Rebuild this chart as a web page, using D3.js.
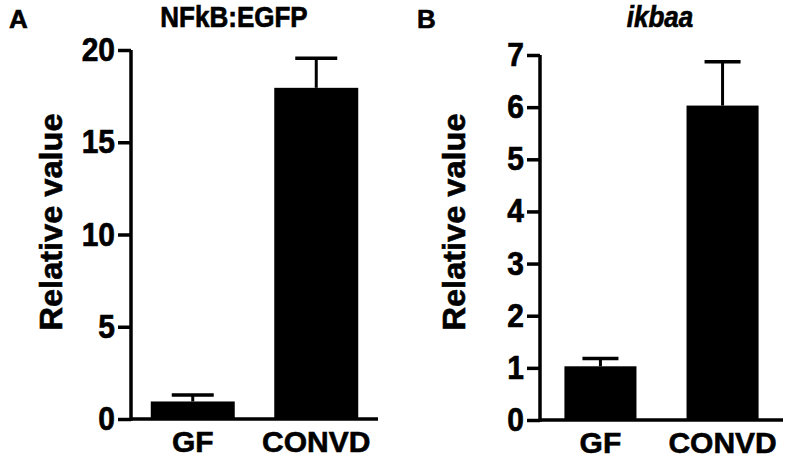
<!DOCTYPE html>
<html>
<head>
<meta charset="utf-8">
<script src="https://cdn.jsdelivr.net/npm/d3@7"></script>
<style>
  html, body { margin: 0; padding: 0; background: #fff; }
  svg { display: block; font-family: "Liberation Sans", Arial, Helvetica, sans-serif; }
  text { stroke: #000; stroke-width: 0.6px; }
</style>
</head>
<body>
<svg id="chart" width="800" height="464"></svg>
<script>
// ---- data ----
const categories = ["GF", "CONVD"];
const nfkbMeans = [0.95, 17.95];
const nfkbErrors = [0.35, 1.6];
const ikbaaMeans = [1.03, 6.03];
const ikbaaErrors = [0.15, 0.84];
const nfkbTicks = [0, 5, 10, 15, 20];
const ikbaaTicks = [0, 1, 2, 3, 4, 5, 6, 7];

const svg = d3.select("#chart");

function panel(opts) {
  const g = svg.append("g");
  const x = d3.scaleBand().domain(categories).range(opts.xRange)
    .paddingInner(opts.padInner).paddingOuter(opts.padOuter);
  const y = d3.scaleLinear().domain(opts.yDomain).range(opts.yRange);

  // bars
  const data = categories.map((c, i) => ({ c, m: opts.means[i], e: opts.errors[i] }));
  g.selectAll("rect.bar").data(data).join("rect")
    .attr("class", "bar")
    .attr("x", d => x(d.c))
    .attr("width", x.bandwidth())
    .attr("y", d => y(d.m))
    .attr("height", d => y(0) - y(d.m))
    .attr("fill", "#000");

  // error bars (upper only)
  const eb = g.selectAll("g.err").data(data).join("g").attr("class", "err");
  eb.append("line")
    .attr("x1", d => x(d.c) + x.bandwidth() / 2)
    .attr("x2", d => x(d.c) + x.bandwidth() / 2)
    .attr("y1", d => y(d.m))
    .attr("y2", d => y(d.m + d.e))
    .attr("stroke", "#000").attr("stroke-width", 3);
  eb.append("line")
    .attr("x1", d => x(d.c) + x.bandwidth() / 4)
    .attr("x2", d => x(d.c) + 3 * x.bandwidth() / 4)
    .attr("y1", d => y(d.m + d.e))
    .attr("y2", d => y(d.m + d.e))
    .attr("stroke", "#000").attr("stroke-width", 3.5);

  // y axis
  const yAxis = g.append("g")
    .attr("transform", `translate(${opts.xRange[0]},0)`)
    .call(d3.axisLeft(y).tickValues(opts.ticks).tickSize(13).tickPadding(3).tickFormat(d3.format("d")));
  yAxis.select(".domain").remove();
  yAxis.selectAll(".tick line").attr("stroke", "#000").attr("stroke-width", 3.5);
  yAxis.selectAll(".tick text")
    .attr("fill", "#000")
    .attr("transform", "scale(1,1.1)")
    .style("font-size", "30px").style("font-weight", "bold");
  g.append("line")
    .attr("x1", opts.xRange[0]).attr("x2", opts.xRange[0])
    .attr("y1", y(opts.yDomain[0]) + 1.75).attr("y2", y(opts.yDomain[1]))
    .attr("stroke", "#000").attr("stroke-width", 3.5);

  // x axis
  const xAxis = g.append("g")
    .attr("transform", `translate(0,${y(0)})`)
    .call(d3.axisBottom(x).tickSize(0).tickPadding(12));
  xAxis.select(".domain").remove();
  xAxis.selectAll(".tick text")
    .attr("fill", "#000")
    .style("font-size", "30px").style("font-weight", "bold");
  g.append("line")
    .attr("x1", opts.xRange[0]).attr("x2", opts.xRange[1])
    .attr("y1", y(0)).attr("y2", y(0))
    .attr("stroke", "#000").attr("stroke-width", 3.5);

  // y axis title
  g.append("text")
    .attr("transform", `translate(${opts.yTitleX},${opts.yTitleY}) rotate(-90) scale(1.05,1)`)
    .attr("text-anchor", "middle")
    .style("font-size", "31px").style("font-weight", "bold")
    .text("Relative value");

  // chart title
  g.append("text")
    .attr("transform", `translate(${opts.titleX},27) scale(1,1.1)`)
    .attr("text-anchor", "middle")
    .style("font-size", "26px").style("font-weight", "bold")
    .style("font-style", opts.italic ? "italic" : "normal")
    .text(opts.title);

  // panel letter
  g.append("text")
    .attr("x", opts.letterX).attr("y", 28)
    .style("font-size", "26px").style("font-weight", "bold")
    .text(opts.letter);
}

panel({
  xRange: [131, 378], padInner: 0.32, padOuter: 0.16,
  yDomain: [0, 20], yRange: [419, 50],
  means: nfkbMeans, errors: nfkbErrors, ticks: nfkbTicks,
  title: "NFkB:EGFP", italic: false, titleX: 234,
  letter: "A", letterX: 9,
  yTitleX: 62, yTitleY: 222
});

panel({
  xRange: [540, 783], padInner: 0.41, padOuter: 0.2,
  yDomain: [0, 7], yRange: [420, 55],
  means: ikbaaMeans, errors: ikbaaErrors, ticks: ikbaaTicks,
  title: "ikbaa", italic: true, titleX: 660,
  letter: "B", letterX: 417,
  yTitleX: 465, yTitleY: 222
});
</script>
</body>
</html>
